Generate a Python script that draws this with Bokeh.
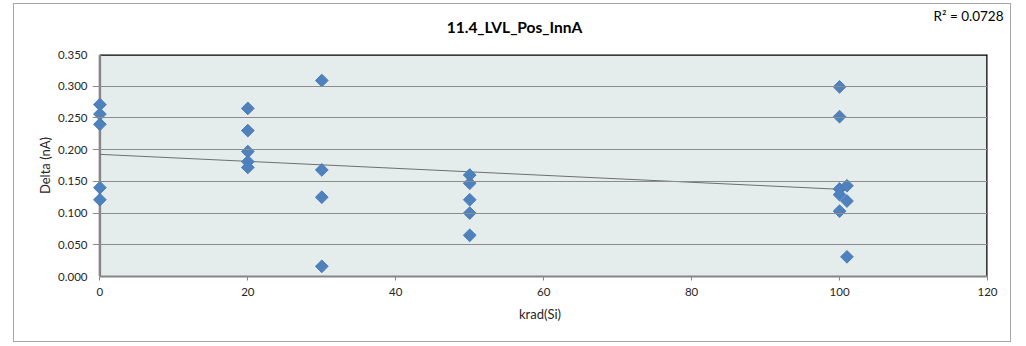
import numpy as np
from bokeh.plotting import figure
from bokeh.models import Label, NumeralTickFormatter, FixedTicker, Range1d
from bokeh.embed import file_html
from bokeh.resources import INLINE

# ---- data ----
dose_krad = [0, 0, 0, 0, 0,
             20, 20, 20, 20, 20,
             30, 30, 30, 30,
             50, 50, 50, 50, 50,
             100, 100, 100, 100, 100,
             101, 101, 101]
delta_nA = [0.271, 0.256, 0.240, 0.140, 0.121,
            0.265, 0.230, 0.197, 0.181, 0.172,
            0.309, 0.168, 0.125, 0.016,
            0.160, 0.147, 0.121, 0.100, 0.065,
            0.299, 0.252, 0.138, 0.129, 0.103,
            0.143, 0.119, 0.031]
x_ticks = [0, 20, 40, 60, 80, 100, 120]
y_ticks = [0.0, 0.05, 0.10, 0.15, 0.20, 0.25, 0.30, 0.35]
title_text = "11.4_LVL_Pos_InnA"
r2_text = "R\u00b2 = 0.0728"

FONT = "Lato"
X0, X1 = x_ticks[0], x_ticks[-1]
Y0, Y1 = y_ticks[0], y_ticks[-1]
PAD = 1.0  # small extra x room so the diamonds at x=0 are not cut by the frame

p = figure(width=998, height=339, output_backend="svg", toolbar_location=None,
           x_range=Range1d(X0 - PAD, X1), y_range=Range1d(Y0, Y1),
           min_border_left=78, min_border_right=25, min_border_top=50, min_border_bottom=67)
p.margin = (3, 0, 0, 13)
p.styles = {"border": "1px solid #A6A6A6"}
p.title.visible = False

# chart title and R^2 text as labels in the area above the frame
p.add_layout(Label(x=422, y=28, x_units="screen", y_units="screen", text=title_text,
                   text_font=FONT, text_font_size="15.5px", text_font_style="bold",
                   text_align="center", text_baseline="middle", text_color="black"), "above")
p.add_layout(Label(x=911, y=21, x_units="screen", y_units="screen", text=r2_text,
                   text_font=FONT, text_font_size="13.5px",
                   text_align="right", text_baseline="middle", text_color="black"), "above")

p.background_fill_color = "white"
p.border_fill_color = "white"
p.outline_line_color = None

# plot area fill
p.quad(left=[X0], right=[X1], bottom=[Y0], top=[Y1], fill_color="#E5ECEC",
       line_color=None, level="underlay")

# grid (drawn above the plot-area fill; its short stub left of x=0 acts as tick)
p.xgrid.grid_line_color = None
p.ygrid.grid_line_color = "#8C8C8C"
p.ygrid.grid_line_width = 1
p.ygrid.ticker = FixedTicker(ticks=y_ticks)
p.ygrid.level = "glyph"

# plot-area border: black top/right, grey value axis line at x=0
p.segment(x0=[X0, X1], y0=[Y1, Y0], x1=[X1, X1], y1=[Y1, Y1],
          line_color="black", line_width=2.5)
p.segment(x0=[X0], y0=[Y0], x1=[X0], y1=[Y1], line_color="#868686", line_width=2.5)

# axes
for ax in (p.xaxis[0], p.yaxis[0]):
    ax.axis_line_color = "#868686"
    ax.axis_line_width = 2
    ax.major_tick_line_color = "#868686"
    ax.major_tick_out = 4
    ax.major_tick_in = 0
    ax.minor_tick_line_color = None
    ax.major_label_text_font = FONT
    ax.major_label_text_font_size = "11.5px"
    ax.major_label_text_color = "#262626"
    ax.axis_label_text_font = FONT
    ax.axis_label_text_font_size = "13px"
    ax.axis_label_text_font_style = "normal"
    ax.axis_label_text_color = "#262626"

p.xaxis.ticker = FixedTicker(ticks=x_ticks)
p.xaxis.bounds = (X0, X1)
p.yaxis.ticker = FixedTicker(ticks=y_ticks)
p.yaxis.axis_line_color = None
p.yaxis.major_tick_line_color = None
p.yaxis.major_tick_out = 0
p.yaxis.formatter = NumeralTickFormatter(format="0.000")
p.xaxis.axis_label = "krad(Si)"
p.yaxis.axis_label = "Delta (nA)"
p.xaxis.major_label_standoff = 7
p.xaxis.axis_label_standoff = 7
p.yaxis.major_label_standoff = 5
p.yaxis.axis_label_standoff = 2

# linear trendline computed from the data
xs = np.array(dose_krad, dtype=float)
ys = np.array(delta_nA, dtype=float)
slope, intercept = np.polyfit(xs, ys, 1)
tx = np.array([xs.min(), xs.max()])
p.line(tx, slope * tx + intercept, line_color="#6E6E6E", line_width=1)

# markers (rotated squares = Excel diamonds)
p.scatter(dose_krad, delta_nA, marker="square", angle=np.pi / 4, size=9,
          fill_color="#4F81BD", line_color="#4A7EBB", line_width=1)

open("out.html", "w").write(file_html(p, INLINE))
